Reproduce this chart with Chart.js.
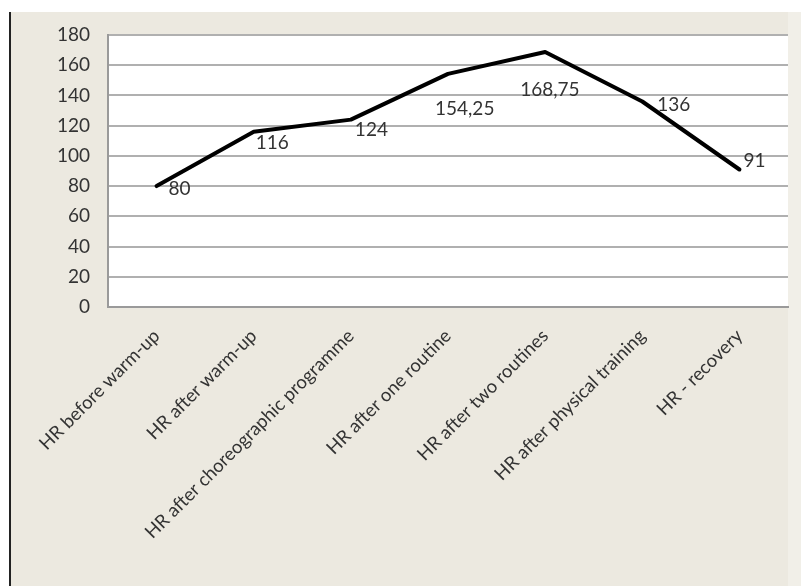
<!DOCTYPE html>
<html>
<head>
<meta charset="utf-8">
<script src="https://cdn.jsdelivr.net/npm/chart.js@4"></script>
<style>
  body { margin:0; background:#fff; width:801px; height:586px; overflow:hidden; position:relative; }
  .panel { position:absolute; left:11px; top:12px; width:777px; height:574px; background:#ece9e0; }
  .strip { position:absolute; left:788px; top:12px; width:13px; height:574px; background:#f1efe8; }
  .edge { position:absolute; left:9px; top:12px; width:2px; height:574px; background:#222; }
  #chart { position:absolute; left:0; top:0; }
</style>
</head>
<body>
<div class="panel"></div>
<div class="strip"></div>
<div class="edge"></div>
<canvas id="chart" width="801" height="586"></canvas>
<script>
// data
const categories = [
  "HR before warm-up",
  "HR after warm-up",
  "HR after choreographic programme",
  "HR after one routine",
  "HR after two routines",
  "HR after physical training",
  "HR - recovery"
];
const heartRate = [80, 116, 124, 154.25, 168.75, 136, 91];
const yTicks = [0, 20, 40, 60, 80, 100, 120, 140, 160, 180];

const FONT = "Lato, 'Open Sans', sans-serif";
const TEXT = "#333";

// white plot background
const plotBg = {
  id: "plotBg",
  beforeDraw(chart) {
    const a = chart.chartArea, c = chart.ctx;
    c.save();
    c.fillStyle = "#fff";
    c.fillRect(a.left, a.top, a.right - a.left, a.bottom - a.top);
    c.restore();
  }
};

// value labels, placed by hand like in the original (offset from point)
const valueLabels = {
  id: "valueLabels",
  afterDatasetsDraw(chart) {
    const offs = [[12, 3], [2, 11], [4, 10], [-13, 35], [-25, 38], [15, 3], [4, -9]];
    const c = chart.ctx;
    const meta = chart.getDatasetMeta(0);
    c.save();
    c.font = "19px " + FONT;
    c.fillStyle = TEXT;
    c.textAlign = "left";
    c.textBaseline = "middle";
    meta.data.forEach((pt, i) => {
      const txt = String(heartRate[i]).replace(".", ",");
      c.fillText(txt, pt.x + offs[i][0], pt.y + offs[i][1]);
    });
    c.restore();
  }
};

new Chart(document.getElementById("chart"), {
  type: "line",
  data: {
    labels: categories,
    datasets: [{
      data: heartRate,
      borderColor: "#000",
      borderWidth: 4,
      borderCapStyle: "round",
      borderJoinStyle: "round",
      pointRadius: 0,
      tension: 0,
      fill: false
    }]
  },
  options: {
    responsive: false,
    animation: false,
    layout: { padding: { left: 12, top: 35, right: 13, bottom: 0 } },
    plugins: { legend: { display: false }, tooltip: { enabled: false } },
    scales: {
      x: {
        offset: true,
        grid: { display: false, drawTicks: false },
        border: { display: true, color: "#9a9a9a", width: 2 },
        ticks: {
          autoSkip: false, minRotation: 45, maxRotation: 45, padding: 18,
          color: TEXT, font: { family: FONT, size: 18.5 }
        },
        afterFit(s) { s.height = 279; }
      },
      y: {
        min: 0, max: 180,
        afterBuildTicks(s) { s.ticks = yTicks.map(v => ({ value: v })); },
        grid: { color: "#b0b0b0", lineWidth: 2, drawTicks: false },
        border: { display: true, color: "#9a9a9a", width: 2 },
        ticks: { padding: 18, color: TEXT, font: { family: FONT, size: 19 } },
        afterFit(s) { s.width = 96; }
      }
    }
  },
  plugins: [plotBg, valueLabels]
});
</script>
</body>
</html>
